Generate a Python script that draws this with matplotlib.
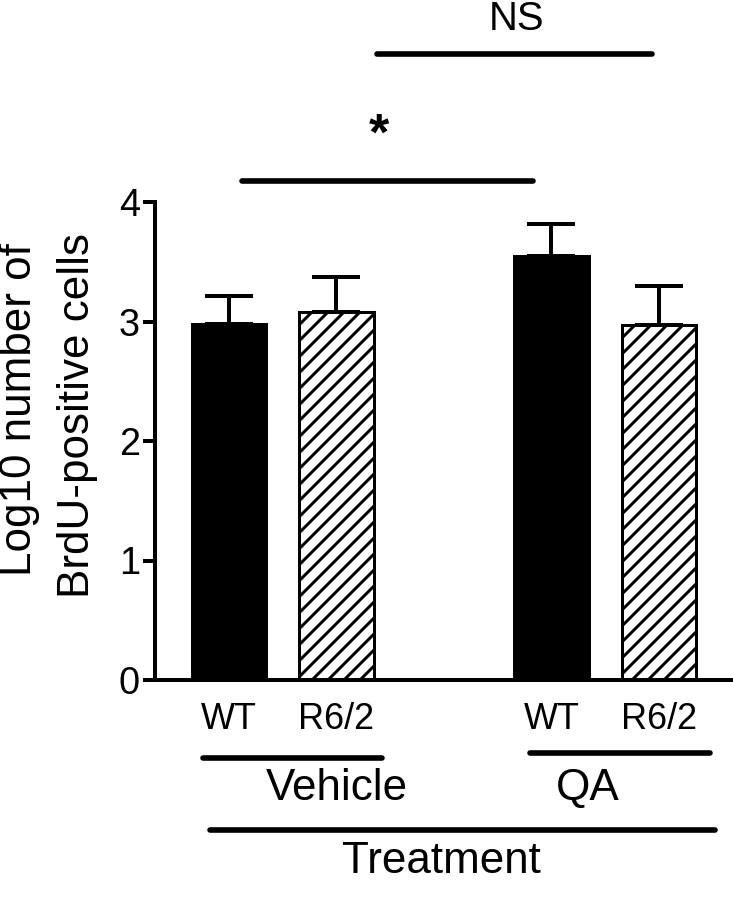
# BrdU-positive cells bar chart, vehicle vs QA
import matplotlib
matplotlib.use('Agg')
import matplotlib.pyplot as plt

plt.rcParams['font.family'] = ['Liberation Sans', 'DejaVu Sans']
plt.rcParams['hatch.linewidth'] = 1.5

# data
groups = ['Vehicle', 'QA']
genotypes = ['WT', 'R6/2', 'WT', 'R6/2']
positions = [0, 1, 3, 4]
means = [2.98, 3.08, 3.55, 2.97]
sem = [0.23, 0.29, 0.27, 0.33]
fills = ['black', 'white', 'black', 'white']
hatches = ['', '///', '', '///']

fig = plt.figure(figsize=(733 / 144, 899 / 144), dpi=144)
ax = fig.add_axes([155 / 733, 1 - 680 / 899, 576 / 733, 478 / 899])

for x, m, e, c, h in zip(positions, means, sem, fills, hatches):
	ax.bar(x, m, width=0.69, color=c, edgecolor='black', linewidth=1.5, hatch=h, zorder=2)
	ax.errorbar(x, m, yerr=[[0], [e]], color='black', elinewidth=2, capsize=12, capthick=2, zorder=1)

ax.set_xlim(-0.688, 4.67)
ax.set_ylim(0, 4)
ax.set_yticks([0, 1, 2, 3, 4])
ax.set_xticks(positions)
ax.set_xticklabels(genotypes)
ax.spines['top'].set_visible(False)
ax.spines['right'].set_visible(False)
ax.spines['left'].set_linewidth(2)
ax.spines['bottom'].set_linewidth(2)
ax.tick_params(axis='y', length=6, width=2, labelsize=19, pad=1.5)
ax.tick_params(axis='x', length=0, labelsize=18, pad=11)

# two-line y label, placed line by line
fig.text(20 / 733, 1 - 410 / 899, 'Log10 number of', rotation=90, ha='center', va='center', fontsize=22)
fig.text(78 / 733, 1 - 416 / 899, 'BrdU-positive cells', rotation=90, ha='center', va='center', fontsize=22)

# significance bars above the plot
lw = 2.8
ax.plot([0.121, 2.828], [4.176, 4.176], color='black', lw=lw, solid_capstyle='round', clip_on=False)
ax.text(1.395, 4.55, '*', ha='center', va='center', fontsize=26, fontweight='bold')
ax.plot([1.377, 3.935], [5.238, 5.238], color='black', lw=lw, solid_capstyle='round', clip_on=False)
ax.text(2.679, 5.53, 'NS', ha='center', va='center', fontsize=20)

# group labels below the plot
ax.plot([-0.242, 1.423], [-0.653, -0.653], color='black', lw=lw, solid_capstyle='round', clip_on=False)
ax.plot([2.8, 4.474], [-0.611, -0.611], color='black', lw=lw, solid_capstyle='round', clip_on=False)
ax.text(1.005, -0.904, groups[0], ha='center', va='center', fontsize=22)
ax.text(3.34, -0.904, groups[1], ha='center', va='center', fontsize=22)
ax.plot([-0.177, 4.521], [-1.255, -1.255], color='black', lw=lw, solid_capstyle='round', clip_on=False)
ax.text(1.981, -1.523, 'Treatment', ha='center', va='center', fontsize=22)

fig.savefig('out.png', dpi=144)
